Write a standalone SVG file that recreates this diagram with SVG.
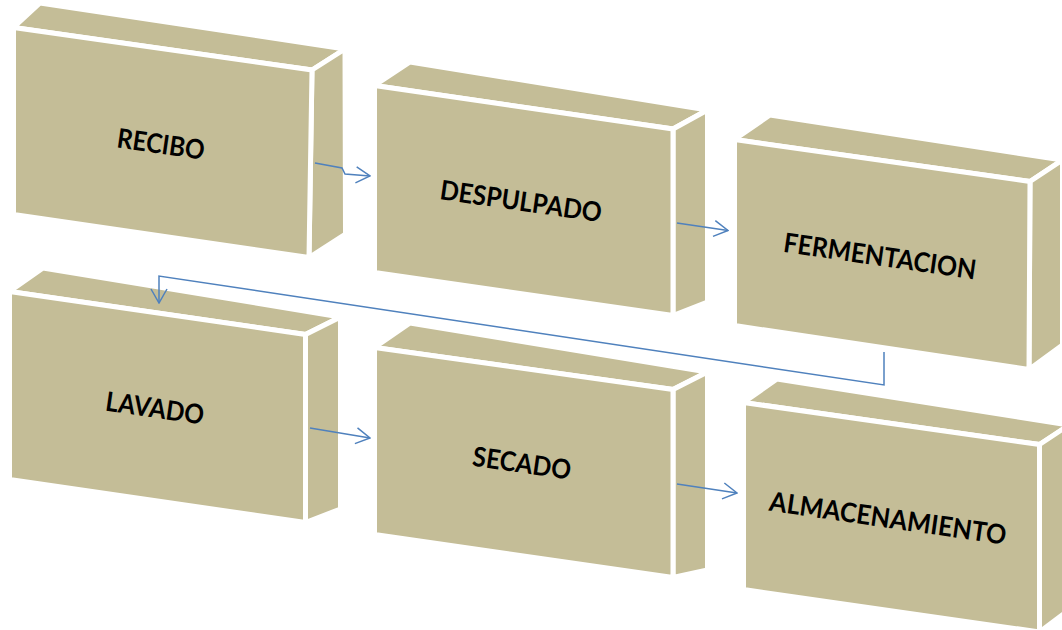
<svg xmlns="http://www.w3.org/2000/svg" width="1062" height="630" viewBox="0 0 1062 630">
<style>
.face{fill:#C4BD97;stroke:#FFFFFF;stroke-width:5;stroke-linejoin:miter}
.lbl{font-family:Lato,"Open Sans","Liberation Sans",sans-serif;font-weight:700;font-size:27px;fill:#000000;text-anchor:middle}
.conn{fill:none;stroke:#4F81BD;stroke-width:1.5}
</style>
<defs>
<marker id="arr" markerUnits="userSpaceOnUse" viewBox="0 0 16 18" markerWidth="16" markerHeight="18" refX="15" refY="9" orient="auto">
<path d="M1,1 L15,9 L1,17" fill="none" stroke="#4F81BD" stroke-width="1.5"/>
</marker>
</defs>
<rect width="1062" height="630" fill="#FFFFFF"/>
<g id="recibo">
<polygon class="face" points="13.5,27.5 40,3 345,49 312,70"/>
<polygon class="face" points="312,70 345,49 345.5,234 309,257.5"/>
<polygon class="face" points="13.5,27.5 312,70 309,257.5 13.5,214.5"/>
<text class="lbl" x="161" y="153.7" textLength="88" lengthAdjust="spacingAndGlyphs" transform="rotate(8.2 161 144)">RECIBO</text>
</g>
<g id="despulpado">
<polygon class="face" points="374.5,85.5 410,62 707.5,110 673,129"/>
<polygon class="face" points="673,129 707.5,110 707.5,302 673,315.5"/>
<polygon class="face" points="374.5,85.5 673,129 673,315.5 374.5,272.5"/>
<text class="lbl" x="521" y="210.7" textLength="163" lengthAdjust="spacingAndGlyphs" transform="rotate(8.2 521 201)">DESPULPADO</text>
</g>
<g id="fermentacion">
<polygon class="face" points="734.5,139.5 770,115 1062.5,160 1030,181.5"/>
<polygon class="face" points="1030,181.5 1062.5,160 1062.5,345 1029,369.5"/>
<polygon class="face" points="734.5,139.5 1030,181.5 1029,369.5 734.5,325.5"/>
<text class="lbl" x="880" y="265.7" textLength="194" lengthAdjust="spacingAndGlyphs" transform="rotate(8.2 880 256)">FERMENTACION</text>
</g>
<g id="lavado">
<polygon class="face" points="9.5,291.5 43,268 340.5,317 305.5,334.5"/>
<polygon class="face" points="305.5,334.5 340.5,317 340.5,509 305.5,522.5"/>
<polygon class="face" points="9.5,291.5 305.5,334.5 305.5,522.5 9.5,479.5"/>
<text class="lbl" x="155" y="417.7" textLength="99" lengthAdjust="spacingAndGlyphs" transform="rotate(8.2 155 408)">LAVADO</text>
</g>
<g id="secado">
<polygon class="face" points="374.5,347.5 410,323 707.5,372 673,389.5"/>
<polygon class="face" points="673,389.5 707.5,372 707.5,570 673,577.5"/>
<polygon class="face" points="374.5,347.5 673,389.5 673,577.5 374.5,534.5"/>
<text class="lbl" x="522" y="472.7" textLength="99" lengthAdjust="spacingAndGlyphs" transform="rotate(8.2 522 463)">SECADO</text>
</g>
<g id="almacenamiento">
<polygon class="face" points="743.5,402.5 777,379 1069,425 1039.5,444.5"/>
<polygon class="face" points="1039.5,444.5 1069,425 1069,610 1039.5,632"/>
<polygon class="face" points="743.5,402.5 1039.5,444.5 1039.5,632 743.5,589.5"/>
<text class="lbl" x="888" y="527.7" textLength="239" lengthAdjust="spacingAndGlyphs" transform="rotate(8.2 888 518)">ALMACENAMIENTO</text>
</g>
<g id="connectors">
<polyline class="conn" points="315,163 342,168 345,174 370,176" marker-end="url(#arr)"/>
<polyline class="conn" points="677,223 728,230.5" marker-end="url(#arr)"/>
<polyline class="conn" points="884,352 884,385 159,276 159,303" marker-end="url(#arr)"/>
<polyline class="conn" points="310,428 370,438" marker-end="url(#arr)"/>
<polyline class="conn" points="677,484 737,493" marker-end="url(#arr)"/>
</g>
</svg>
